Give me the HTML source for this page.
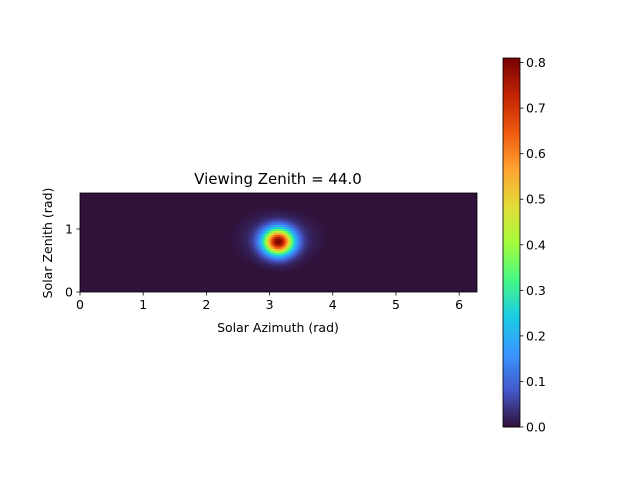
<!DOCTYPE html>
<html><head><meta charset="utf-8"><style>
body{margin:0;background:#fff;font-family:"Liberation Sans","DejaVu Sans",sans-serif;}
svg text{font-family:"DejaVu Sans","Liberation Sans",sans-serif;font-size:12.5px;fill:#000}
</style></head><body>
<svg id="c" width="640" height="480" xmlns="http://www.w3.org/2000/svg">
<rect width="640" height="480" fill="#fff"/>
<g id="heat"></g>
<g id="cbar"></g>
<g id="axes"></g>
</svg>
<script>
// data
const xTicks=[0,1,2,3,4,5,6];
const yTicks=[0,1];
const cbTicks=[0,0.1,0.2,0.3,0.4,0.5,0.6,0.7,0.8];
const peakAzimuth=[3.14,3.14];
const peakZenith=[0.80,0.86];
const peakValue=[0.76,0.06];
const peakSigmaAz=[0.16,0.32];
const peakSigmaZen=[0.14,0.2];
const vmin=0,vmax=0.81;
const X0=80,X1=477,Y0=193,Y1=292,xmax=2*Math.PI,ymax=Math.PI/2;
const sx=v=>X0+v/xmax*(X1-X0), sy=v=>Y1-v/ymax*(Y1-Y0);
const CB0=58,CB1=427,cx0=503,cx1=520;
const cy=v=>CB1-(v-vmin)/(vmax-vmin)*(CB1-CB0);
const TURBO=[[48,18,59],[68,90,204],[58,150,254],[26,204,229],[70,248,132],[164,252,60],[225,221,55],[254,164,49],[239,90,17],[195,37,3],[122,4,3]];
function turbo(t){t=Math.max(0,Math.min(1,t))*10;const i=Math.min(9,Math.floor(t)),f=t-i;
 const a=TURBO[i],b=TURBO[i+1];const c=k=>Math.round(a[k]+(b[k]-a[k])*f);return `rgb(${c(0)},${c(1)},${c(2)})`;}
const NS='http://www.w3.org/2000/svg';
function el(t,a,p){const e=document.createElementNS(NS,t);for(const k in a)e.setAttribute(k,a[k]);p.appendChild(e);return e;}
const heat=document.getElementById('heat');
el('rect',{x:X0,y:Y0,width:X1-X0,height:Y1-Y0,fill:turbo(0)},heat);
const nx=200,ny=50;
for(let j=0;j<ny;j++)for(let i=0;i<nx;i++){
 const az=(i+0.5)/nx*xmax,ze=(j+0.5)/ny*ymax;
 let v=0;for(let k=0;k<peakValue.length;k++){const dx=(az-peakAzimuth[k])/peakSigmaAz[k],dy=(ze-peakZenith[k])/peakSigmaZen[k];v+=peakValue[k]*Math.exp(-(dx*dx+dy*dy)/2);}
 if(v<0.004)continue;
 const x=sx(i/nx*xmax),y=sy((j+1)/ny*ymax);
 const r=el('rect',{x:x,y:y,width:(X1-X0)/nx+0.3,height:(Y1-Y0)/ny+0.3,fill:turbo((v-vmin)/(vmax-vmin))},heat);
 
 
}
const cb=document.getElementById('cbar');
for(let k=0;k<200;k++){const v0=vmin+k/200*(vmax-vmin),v1=vmin+(k+1)/200*(vmax-vmin);
 el('rect',{x:cx0,y:cy(v1),width:cx1-cx0,height:cy(v0)-cy(v1)+0.5,fill:turbo(k/199)},cb);}
el('rect',{x:cx0,y:CB0,width:cx1-cx0,height:CB1-CB0,fill:'none',stroke:'#000','stroke-width':0.8},cb);
cbTicks.forEach(v=>{el('line',{x1:cx1,x2:cx1+3.5,y1:cy(v),y2:cy(v),stroke:'#000','stroke-width':0.8},cb);
 const t=el('text',{x:cx1+6,y:cy(v)+4.5},cb);t.textContent=v.toFixed(1);
 
 });
const ax=document.getElementById('axes');
el('rect',{x:X0,y:Y0,width:X1-X0,height:Y1-Y0,fill:'none',stroke:'#000','stroke-width':0.8},ax);
xTicks.forEach(v=>{el('line',{x1:sx(v),x2:sx(v),y1:Y1,y2:Y1+3.5,stroke:'#000','stroke-width':0.8},ax);
 const t=el('text',{x:sx(v),y:Y1+17,'text-anchor':'middle'},ax);t.textContent=v;
 
 });
yTicks.forEach(v=>{el('line',{x1:X0-3.5,x2:X0,y1:sy(v),y2:sy(v),stroke:'#000','stroke-width':0.8},ax);
 const t=el('text',{x:X0-7,y:sy(v)+4.5,'text-anchor':'end'},ax);t.textContent=v;
 
 });
let t=el('text',{x:278,y:332,'text-anchor':'middle'},ax);t.textContent='Solar Azimuth (rad)';


t=el('text',{x:52,y:243,'text-anchor':'middle',transform:'rotate(-90 52 243)'},ax);t.textContent='Solar Zenith (rad)';


t=el('text',{x:278,y:184,'text-anchor':'middle',style:'font-size:15px'},ax);t.textContent='Viewing Zenith = 44.0';


</script>
</body></html>
